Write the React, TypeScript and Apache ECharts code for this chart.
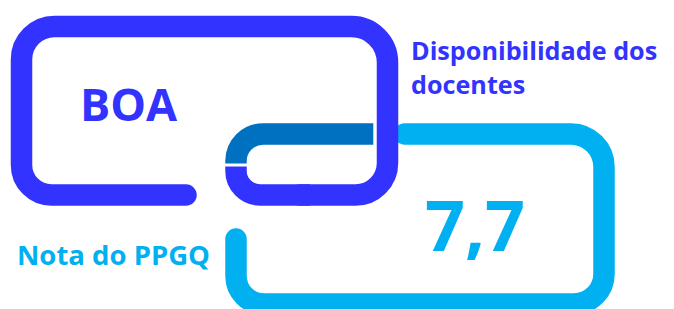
import React, { useEffect, useRef } from "react";
import * as echarts from "echarts";

// ---- content ----
const titleLines = ["Disponibilidade dos", "docentes"];
const ratingLabels = ["BOA"];
const scoreCaptions = ["Nota do PPGQ"];
const scoreValues = ["7,7"];

// ---- colours ----
const DARK = "#3333FF";
const MID = "#0070C0";
const LIGHT = "#00B0F0";
const FONT = "'Open Sans', 'Noto Sans', sans-serif";

// chain-link outlines (SVG path strings of stroke centre-lines)
const linkPaths: Record<string, string> = {
  darkLoop:
    "M186,195 L51.5,195 A30,30 0 0 1 21.5,165 L21.5,59.5 A33,33 0 0 1 54.5,26.5 L351.5,26.5 A36,36 0 0 1 387.5,62.5 L387.5,163 A32,32 0 0 1 355.5,195 L300,195",
  darkHook: "M310,195 L260,195 A24,24 0 0 1 236,171 L236,166.5",
  midHook: "M373.3,134 L263,134 A27,27 0 0 0 236,161 L236,163.4",
  lightLoop:
    "M404.7,134 L571,134 A33,33 0 0 1 604,167 L604,274 A30,30 0 0 1 574,304 L264,304 A28,28 0 0 1 236,276 L236,239",
};

export default function App() {
  const ref = useRef<HTMLDivElement>(null);
  useEffect(() => {
    if (!ref.current) return;
    Object.keys(linkPaths).forEach((k) => {
      echarts.graphic.registerShape(k, echarts.graphic.extendPath(linkPaths[k], {}) as any);
    });
    const chart = echarts.init(ref.current, null, { renderer: "svg" });
    const W = 21.5;
    const txt = (text: string, x: number, y: number, size: number, fill: string) => ({
      type: "text",
      x,
      y,
      style: {
        text,
        fill,
        fontSize: size,
        fontWeight: "bold",
        fontFamily: FONT,
        align: "left",
        textAlign: "left",
        verticalAlign: "middle",
        textVerticalAlign: "middle",
      },
    });
    chart.setOption({
      animation: false,
      backgroundColor: "#ffffff",
      graphic: [
        {
          type: "lightLoop",
          x: 0,
          y: 0,
          style: { fill: null, stroke: LIGHT, lineWidth: W, lineCap: "round", lineJoin: "round" },
        },
        {
          type: "midHook",
          x: 0,
          y: 0,
          style: { fill: null, stroke: MID, lineWidth: W, lineCap: "butt" },
        },
        {
          type: "darkLoop",
          x: 0,
          y: 0,
          style: { fill: null, stroke: DARK, lineWidth: W, lineCap: "round", lineJoin: "round" },
        },
        {
          type: "darkHook",
          x: 0,
          y: 0,
          style: { fill: null, stroke: DARK, lineWidth: W, lineCap: "butt" },
        },
        txt(ratingLabels[0], 80, 103.5, 45, DARK),
        txt(titleLines[0], 411, 49.6, 25.2, DARK),
        txt(titleLines[1], 411, 83.6, 25.2, DARK),
        txt(scoreCaptions[0], 17, 254.3, 27.5, LIGHT),
        txt(scoreValues[0], 425, 224, 70, LIGHT),
      ],
    });
    return () => chart.dispose();
  }, []);
  return (
    <div
      ref={ref}
      style={{ position: "absolute", left: 0, top: 0, width: 674, height: 309 }}
    />
  );
}
